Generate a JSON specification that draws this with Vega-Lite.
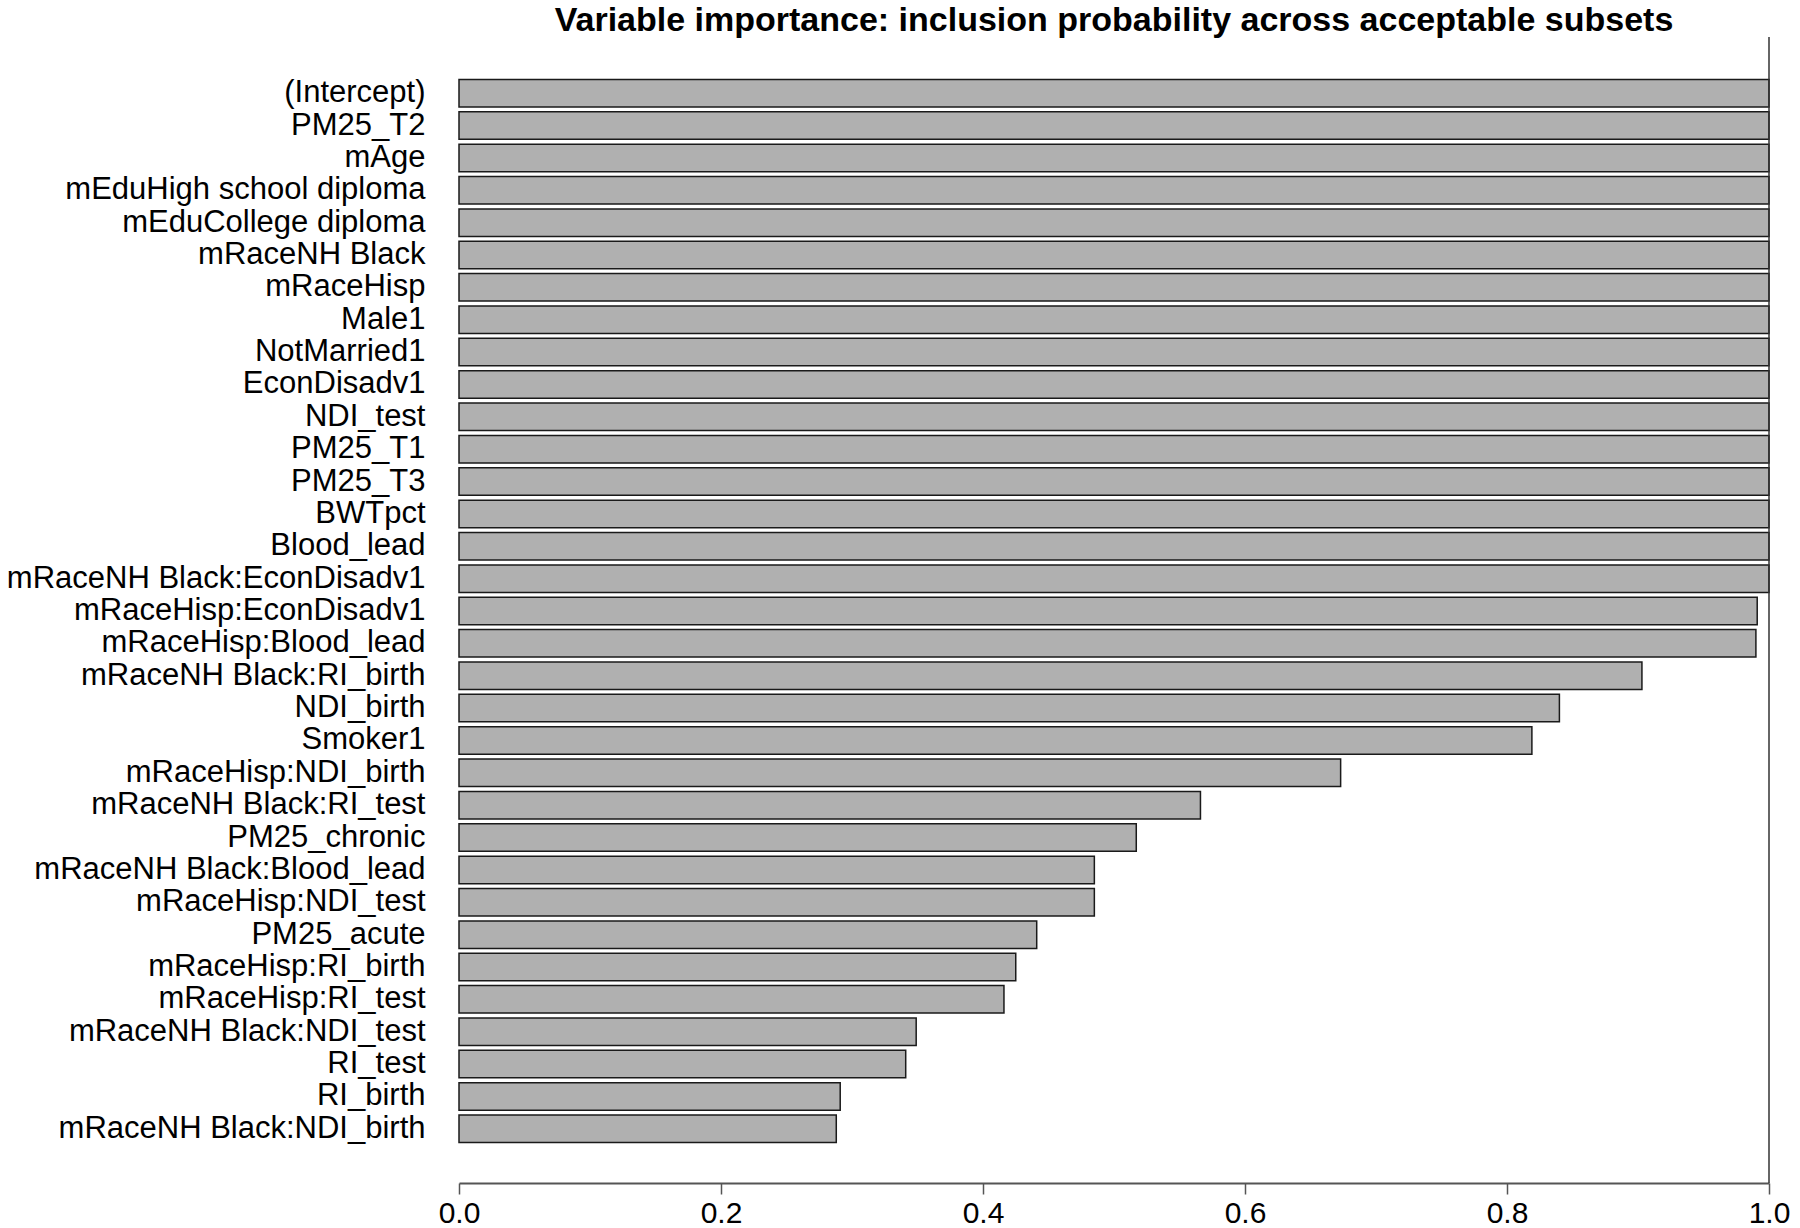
{
  "$schema": "https://vega.github.io/schema/vega-lite/v6.json",
  "autosize": {"type": "none"},
  "padding": {"left": 459, "top": 37, "right": 31, "bottom": 45},
  "width": 1310,
  "height": 1146,
  "background": "white",
  "title": {
    "text": "Variable importance: inclusion probability across acceptable subsets",
    "font": "Liberation Sans",
    "fontSize": 34,
    "fontWeight": "bold",
    "color": "black",
    "anchor": "middle",
    "offset": 5,
    "dy": 7
  },
  "config": {"view": {"stroke": null}},
  "data": {
    "values": [
      {"var": "(Intercept)", "p": 1.0},
      {"var": "PM25_T2", "p": 1.0},
      {"var": "mAge", "p": 1.0},
      {"var": "mEduHigh school diploma", "p": 1.0},
      {"var": "mEduCollege diploma", "p": 1.0},
      {"var": "mRaceNH Black", "p": 1.0},
      {"var": "mRaceHisp", "p": 1.0},
      {"var": "Male1", "p": 1.0},
      {"var": "NotMarried1", "p": 1.0},
      {"var": "EconDisadv1", "p": 1.0},
      {"var": "NDI_test", "p": 1.0},
      {"var": "PM25_T1", "p": 1.0},
      {"var": "PM25_T3", "p": 1.0},
      {"var": "BWTpct", "p": 1.0},
      {"var": "Blood_lead", "p": 1.0},
      {"var": "mRaceNH Black:EconDisadv1", "p": 1.0},
      {"var": "mRaceHisp:EconDisadv1", "p": 0.991},
      {"var": "mRaceHisp:Blood_lead", "p": 0.99},
      {"var": "mRaceNH Black:RI_birth", "p": 0.903},
      {"var": "NDI_birth", "p": 0.84},
      {"var": "Smoker1", "p": 0.819},
      {"var": "mRaceHisp:NDI_birth", "p": 0.673},
      {"var": "mRaceNH Black:RI_test", "p": 0.566},
      {"var": "PM25_chronic", "p": 0.517},
      {"var": "mRaceNH Black:Blood_lead", "p": 0.485},
      {"var": "mRaceHisp:NDI_test", "p": 0.485},
      {"var": "PM25_acute", "p": 0.441},
      {"var": "mRaceHisp:RI_birth", "p": 0.425},
      {"var": "mRaceHisp:RI_test", "p": 0.416},
      {"var": "mRaceNH Black:NDI_test", "p": 0.349},
      {"var": "RI_test", "p": 0.341},
      {"var": "RI_birth", "p": 0.291},
      {"var": "mRaceNH Black:NDI_birth", "p": 0.288}
    ]
  },
  "layer": [
    {
      "mark": {"type": "bar", "fill": "#b0b0b0", "stroke": "#1a1a1a", "strokeWidth": 1.5},
      "encoding": {
        "y": {
          "field": "var", "type": "nominal", "sort": null,
          "scale": {"paddingInner": 0.15, "paddingOuter": 0.075, "range": [40, 1108]},
          "axis": {
            "title": null, "domain": false, "ticks": false,
            "labelFont": "Liberation Sans", "labelFontSize": 31, "labelColor": "black",
            "labelPadding": 34, "labelLimit": 600
          }
        },
        "x": {
          "field": "p", "type": "quantitative",
          "scale": {"domain": [0, 1], "nice": false, "zero": true},
          "axis": {
            "title": null, "grid": false, "values": [0, 0.2, 0.4, 0.6, 0.8, 1.0], "format": ".1f",
            "domainColor": "#555555", "domainWidth": 2, "tickColor": "#555555", "tickWidth": 1.5, "tickSize": 11,
            "labelFont": "Liberation Sans", "labelFontSize": 30, "labelColor": "black", "labelPadding": 4,
            "labelFlush": false
          }
        }
      }
    },
    {
      "mark": {"type": "rule", "color": "#333333", "strokeWidth": 1.5},
      "data": {"values": [{"x": 1}]},
      "encoding": {"x": {"field": "x", "type": "quantitative"}}
    }
  ]
}
